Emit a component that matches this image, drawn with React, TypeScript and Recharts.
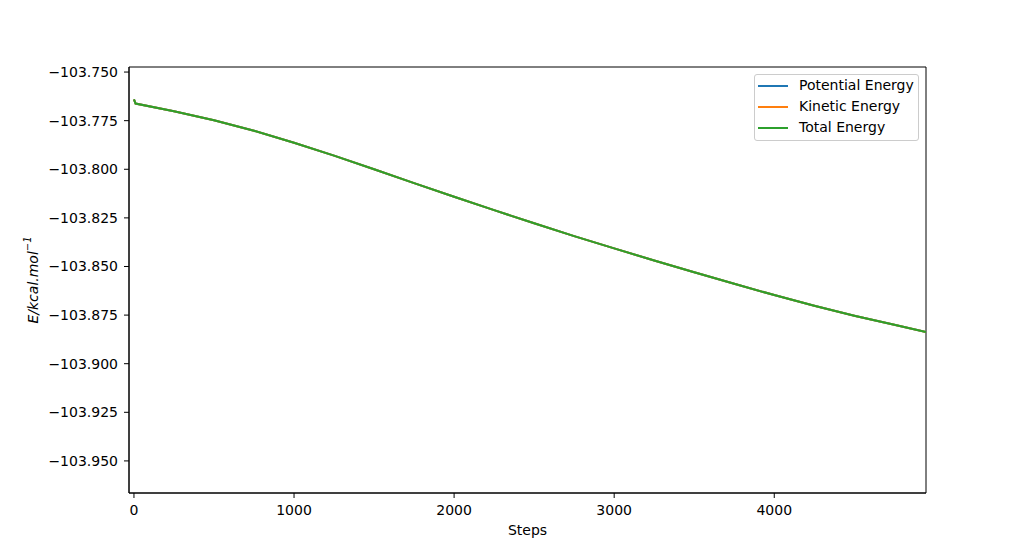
import React from 'react';
import { LineChart, Line, XAxis, YAxis, ReferenceArea, Label } from 'recharts';

const steps = [0, 10, 250, 500, 750, 1000, 1250, 1500, 1750, 2000, 2250, 2500, 2750, 3000, 3250, 3500, 3750, 4000, 4250, 4500, 4750, 4948];
const potential = [-103.764, -103.7662, -103.7702, -103.7748, -103.7802, -103.7864, -103.793, -103.8, -103.8071, -103.8141, -103.821, -103.8278, -103.8344, -103.8407, -103.8469, -103.853, -103.8589, -103.8647, -103.8702, -103.8753, -103.88, -103.8837];
const kinetic = [-103.764, -103.7662, -103.7702, -103.7748, -103.7802, -103.7864, -103.793, -103.8, -103.8071, -103.8141, -103.821, -103.8278, -103.8344, -103.8407, -103.8469, -103.853, -103.8589, -103.8647, -103.8702, -103.8753, -103.88, -103.8837];
const total = [-103.764, -103.7662, -103.7702, -103.7748, -103.7802, -103.7864, -103.793, -103.8, -103.8071, -103.8141, -103.821, -103.8278, -103.8344, -103.8407, -103.8469, -103.853, -103.8589, -103.8647, -103.8702, -103.8753, -103.88, -103.8837];
const xTicks = [0, 1000, 2000, 3000, 4000];
const yTicks = [-103.75, -103.775, -103.8, -103.825, -103.85, -103.875, -103.9, -103.925, -103.95];
const seriesNames = ['Potential Energy', 'Kinetic Energy', 'Total Energy'];
const seriesColors = ['#1f77b4', '#ff7f0e', '#2ca02c'];

const data = steps.map((s, i) => ({ step: s, potential: potential[i], kinetic: kinetic[i], total: total[i] }));

const X_MIN = -31;
const X_MAX = 4948;
const Y_MIN = -103.9665;
const Y_MAX = -103.7474;

const FONT = 'DejaVu Sans';

const fmtY = (v: number) => '\u2212' + Math.abs(v).toFixed(3);

const LegendBox = () => (
  <div
    style={{
      position: 'absolute',
      left: 754,
      top: 74,
      width: 165,
      height: 67,
      border: '1px solid #cccccc',
      borderRadius: 3,
      background: 'rgba(255,255,255,0.8)',
      boxSizing: 'border-box',
      fontFamily: FONT,
      fontSize: 14,
      color: '#000',
      paddingTop: 0,
      lineHeight: '21px',
    }}
  >
    {seriesNames.map((name, i) => (
      <div key={name} style={{ display: 'flex', alignItems: 'center', height: 21 }}>
        <div style={{ width: 30, height: 2, background: seriesColors[i], marginLeft: 3, marginRight: 11 }} />
        <span>{name}</span>
      </div>
    ))}
  </div>
);

const YLabel = () => (
  <text
    x={33}
    y={280}
    transform="rotate(-90 33 280)"
    textAnchor="middle"
    dominantBaseline="central"
    fontFamily={FONT}
    fontSize={14}
    fontStyle="italic"
    fill="#000"
  >
    E/kcal.mol
    <tspan dy={-6} fontSize={10}>{'\u22121'}</tspan>
  </text>
);

export default function App() {
  return (
    <div style={{ position: 'absolute', left: 0, top: 0, width: 1029, height: 555, background: '#fff' }}>
      <LineChart width={1029} height={555} data={data} margin={{ top: 67, right: 103, bottom: 0, left: 0 }}>
        <XAxis
          dataKey="step"
          type="number"
          domain={[X_MIN, X_MAX]}
          allowDataOverflow
          ticks={xTicks}
          height={62}
          stroke="#000"
          tickSize={5}
          tickMargin={7}
          tick={{ fill: '#000', fontFamily: FONT, fontSize: 14 }}
          tickLine={{ stroke: '#000' }}
        >
          <Label value="Steps" position="insideBottom" offset={20} fill="#000" fontFamily={FONT} fontSize={14} />
        </XAxis>
        <YAxis
          type="number"
          domain={[Y_MIN, Y_MAX]}
          allowDataOverflow
          ticks={yTicks}
          width={129}
          stroke="#000"
          tickSize={5}
          tickMargin={6}
          tickFormatter={fmtY}
          tick={{ fill: '#000', fontFamily: FONT, fontSize: 14 }}
          tickLine={{ stroke: '#000' }}
          label={<YLabel />}
        />
        <ReferenceArea x1={X_MIN} x2={X_MAX} y1={Y_MIN} y2={Y_MAX} fill="none" stroke="#000" strokeWidth={1} ifOverflow="visible" />
        <Line type="linear" dataKey="potential" name={seriesNames[0]} stroke={seriesColors[0]} strokeWidth={2} dot={false} isAnimationActive={false} />
        <Line type="linear" dataKey="kinetic" name={seriesNames[1]} stroke={seriesColors[1]} strokeWidth={2} dot={false} isAnimationActive={false} />
        <Line type="linear" dataKey="total" name={seriesNames[2]} stroke={seriesColors[2]} strokeWidth={2} dot={false} isAnimationActive={false} />
      </LineChart>
      <LegendBox />
    </div>
  );
}
